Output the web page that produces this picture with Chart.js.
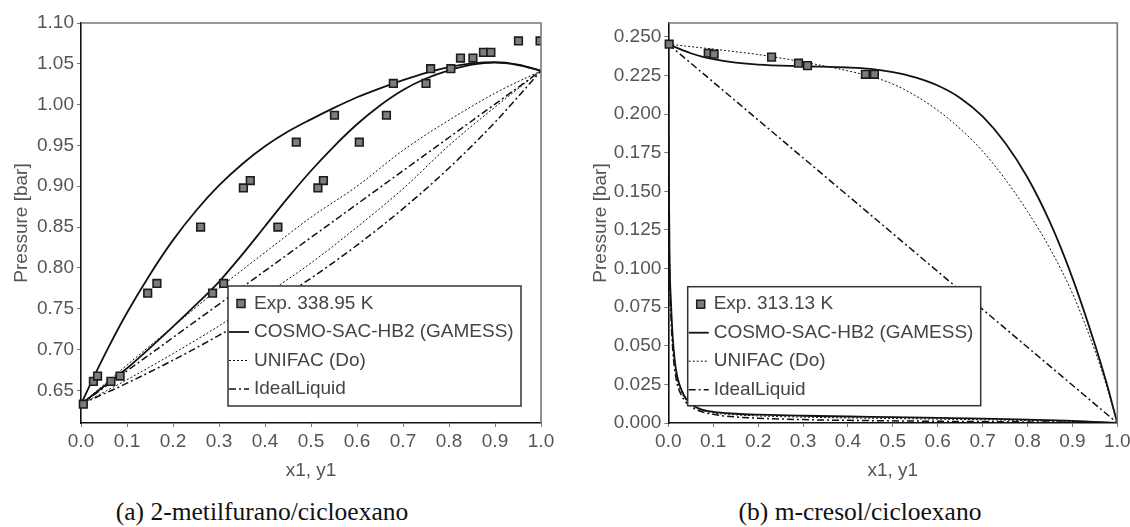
<!DOCTYPE html>
<html lang="pt">
<head>
<meta charset="UTF-8">
<title>ELV isotérmico</title>
<script src="https://cdn.jsdelivr.net/npm/chart.js"></script>
<style>
  body { margin: 0; background: #fff; }
  #wrap { position: relative; width: 1130px; height: 527px; overflow: hidden; }
  #wrap canvas { position: absolute; top: 0; }
  #chartA { left: 0; }
  #chartB { left: 565px; }
  .caption {
    position: absolute; top: 498px; transform: translateX(-50%); white-space: nowrap;
    font-family: "Liberation Serif", serif; font-size: 25.5px; line-height: 28px; color: #111;
  }
</style>
</head>
<body>
<div id="wrap">
  <canvas id="chartA" width="565" height="490"></canvas>
  <canvas id="chartB" width="565" height="490"></canvas>
  <div class="caption" style="left:262px">(a) 2-metilfurano/cicloexano</div>
  <div class="caption" style="left:860px">(b) m-cresol/cicloexano</div>
</div>

<script>
// ---- ticks ----
const ticksX = [0, 0.1, 0.2, 0.3, 0.4, 0.5, 0.6, 0.7, 0.8, 0.9, 1.0];
const ticksYA = [0.65, 0.70, 0.75, 0.80, 0.85, 0.90, 0.95, 1.00, 1.05, 1.10];
const ticksYB = [0, 0.025, 0.05, 0.075, 0.1, 0.125, 0.15, 0.175, 0.2, 0.225, 0.25];

// ---- (a) 2-metilfurano/cicloexano, 338.95 K ----
const expA_x = [0.005, 0.027, 0.036, 0.065, 0.085, 0.145, 0.165, 0.286, 0.310, 0.260, 0.428,
  0.353, 0.368, 0.515, 0.527, 0.468, 0.605, 0.551, 0.664, 0.679, 0.750, 0.760, 0.804,
  0.825, 0.852, 0.875, 0.891, 0.951, 0.998];
const expA_p = [0.633, 0.661, 0.6675, 0.661, 0.6675, 0.769, 0.781, 0.769, 0.781, 0.850, 0.850,
  0.898, 0.907, 0.898, 0.907, 0.954, 0.954, 0.987, 0.987, 1.026, 1.026, 1.044, 1.044,
  1.057, 1.057, 1.064, 1.064, 1.078, 1.078];

const cosmoBubA_x = [0, 0.03, 0.06, 0.1, 0.15, 0.2, 0.25, 0.3, 0.35, 0.4, 0.45, 0.5, 0.55,
  0.6, 0.65, 0.7, 0.75, 0.8, 0.85, 0.9, 0.95, 1.0];
const cosmoBubA_p = [0.633, 0.669, 0.703, 0.745, 0.792, 0.834, 0.870, 0.901, 0.927, 0.949,
  0.967, 0.982, 0.996, 1.009, 1.020, 1.030, 1.039, 1.046, 1.0505, 1.052, 1.049, 1.0415];

const gridA = [0, 0.05, 0.1, 0.15, 0.2, 0.25, 0.3, 0.35, 0.4, 0.45, 0.5, 0.55, 0.6, 0.65,
  0.7, 0.75, 0.8, 0.85, 0.9, 0.95, 1.0];
const cosmoDewA_p = [0.633, 0.655, 0.677, 0.702, 0.728, 0.755, 0.783, 0.816, 0.851, 0.886,
  0.919, 0.949, 0.976, 0.999, 1.018, 1.032, 1.042, 1.049, 1.0515, 1.0485, 1.0415];

const gridA10 = [0, 0.1, 0.2, 0.3, 0.4, 0.5, 0.6, 0.7, 0.8, 0.9, 1.0];
const unifacBubA_p = [0.633, 0.681, 0.728, 0.775, 0.819, 0.862, 0.900, 0.944, 0.981, 1.014, 1.0415];
const unifacDewA_p = [0.633, 0.663, 0.695, 0.729, 0.767, 0.806, 0.850, 0.897, 0.950, 0.997, 1.0415];
const idealBubA_x = [0, 1.0];
const idealBubA_p = [0.633, 1.0415];
const idealDewA_p = [0.633, 0.6588, 0.6869, 0.7174, 0.7508, 0.7874, 0.8278, 0.8726, 0.9224, 0.9784, 1.0415];

// ---- (b) m-cresol/cicloexano, 313.13 K ----
const expB_x = [0.002, 0.089, 0.102, 0.230, 0.290, 0.310, 0.439, 0.459];
const expB_p = [0.2453, 0.2394, 0.2388, 0.2369, 0.2330, 0.2314, 0.2258, 0.2258];

const bubB_x = [0, 0.025, 0.05, 0.075, 0.1, 0.15, 0.2, 0.3, 0.4, 0.45, 0.5, 0.55, 0.6,
  0.65, 0.7, 0.75, 0.8, 0.85, 0.9, 0.95, 0.975, 1.0];
const cosmoBubB_p = [0.2453, 0.2422, 0.2394, 0.2372, 0.2356, 0.2333, 0.2320, 0.2310, 0.2302,
  0.2293, 0.2272, 0.2238, 0.2185, 0.2105, 0.1985, 0.1815, 0.1590, 0.1300, 0.0940, 0.0510, 0.0270, 0.0];
const unifacBubB_p = [0.2453, 0.2445, 0.2437, 0.2429, 0.2421, 0.2404, 0.2386, 0.2338, 0.2280,
  0.2245, 0.2195, 0.2120, 0.2025, 0.1905, 0.1760, 0.1580, 0.1370, 0.1130, 0.0840, 0.0470, 0.0250, 0.0];
const idealBubB_x = [0, 1.0];
const idealBubB_p = [0.2453, 0.0];

const dewB_x = [0, 0.001, 0.003, 0.006, 0.01, 0.015, 0.02, 0.03, 0.04, 0.05, 0.07, 0.1,
  0.15, 0.2, 0.3, 0.4, 0.5, 0.6, 0.7, 0.8, 0.9, 1.0];
const cosmoDewB_p = [0.2453, 0.165, 0.105, 0.078, 0.055, 0.039, 0.030, 0.021, 0.0155, 0.0125,
  0.0092, 0.0072, 0.0060, 0.0054, 0.0047, 0.0042, 0.0038, 0.0033, 0.0028, 0.0022, 0.0014, 0.0];
const unifacDewB_p = [0.2453, 0.160, 0.100, 0.074, 0.052, 0.037, 0.028, 0.0195, 0.0147, 0.0118,
  0.0087, 0.0066, 0.0053, 0.0046, 0.0038, 0.0033, 0.0029, 0.0025, 0.0021, 0.0016, 0.0010, 0.0];
const idealDewB_p = [0.2453, 0.155, 0.095, 0.068, 0.047, 0.033, 0.025, 0.0175, 0.0132, 0.0107,
  0.0078, 0.0056, 0.0039, 0.0031, 0.0022, 0.0017, 0.0014, 0.0011, 0.0009, 0.0007, 0.0005, 0.0];

// ---- styles ----
const INK = '#111';
const TXT = '#555';
const FONT = '"Liberation Sans", Arial, sans-serif';
Chart.defaults.font.family = FONT;
Chart.defaults.font.size = 19;
Chart.defaults.color = TXT;

const LBL_COSMO = 'COSMO-SAC-HB2 (GAMESS)';
const LBL_UNIFAC = 'UNIFAC (Do)';
const LBL_IDEAL = 'IdealLiquid';

const lineStyle = {
  [LBL_COSMO]: { borderWidth: 1.8, borderDash: [] },
  [LBL_UNIFAC]: { borderWidth: 1, borderDash: [2, 2] },
  [LBL_IDEAL]: { borderWidth: 1.5, borderDash: [7, 3, 2, 3] }
};

const pts = (xs, ys) => xs.map((x, i) => ({ x, y: ys[i] }));

function curve(label, xs, ys) {
  return Object.assign({
    label, data: pts(xs, ys), showLine: true, fill: false,
    pointRadius: 0, pointHoverRadius: 0, borderColor: INK,
    cubicInterpolationMode: 'monotone'
  }, lineStyle[label]);
}

function exper(label, xs, ys) {
  return {
    label, data: pts(xs, ys), showLine: false,
    pointStyle: 'rect', pointRadius: 5.4, pointHoverRadius: 5.4,
    backgroundColor: '#7d7d7d', borderColor: '#1c1c1c', borderWidth: 1.6,
    clip: { left: 6, top: 6, right: 0, bottom: 6 }
  };
}

// frame (top/right) and the boxed legend inside the plot
const boxLegend = {
  id: 'boxLegend',
  afterDatasetsDraw(chart, args, opts) {
    const ctx = chart.ctx, a = chart.chartArea;
    ctx.save();
    ctx.strokeStyle = '#777';
    ctx.lineWidth = 1.6;
    ctx.beginPath();
    ctx.moveTo(a.left, a.top); ctx.lineTo(a.right, a.top); ctx.lineTo(a.right, a.bottom);
    ctx.stroke();

    const x0 = a.left + opts.left, y0 = a.top + opts.top;
    ctx.fillStyle = '#fff';
    ctx.fillRect(x0, y0, opts.width, opts.height);
    ctx.strokeStyle = '#333';
    ctx.lineWidth = 1.5;
    ctx.strokeRect(x0, y0, opts.width, opts.height);

    const seen = new Set();
    const items = chart.data.datasets.filter(d => !seen.has(d.label) && seen.add(d.label));
    ctx.font = '19px ' + FONT;
    ctx.textBaseline = 'middle';
    items.forEach((d, i) => {
      const y = y0 + 17.5 + i * 28.5;
      if (d.showLine) {
        ctx.strokeStyle = INK;
        ctx.lineWidth = d.borderWidth;
        ctx.setLineDash(d.borderDash);
        ctx.beginPath();
        ctx.moveTo(x0 + 1, y); ctx.lineTo(x0 + 21, y);
        ctx.stroke();
        ctx.setLineDash([]);
      } else {
        ctx.fillStyle = d.backgroundColor;
        ctx.strokeStyle = d.borderColor;
        ctx.lineWidth = 1.5;
        ctx.fillRect(x0 + 9, y - 4, 8, 8);
        ctx.strokeRect(x0 + 9, y - 4, 8, 8);
      }
      ctx.fillStyle = '#444';
      ctx.fillText(d.label, x0 + 26, y);
    });
    ctx.restore();
  }
};

function makeChart(id, cfg) {
  const tickFmt = cfg.yDigits;
  return new Chart(document.getElementById(id), {
    type: 'scatter',
    data: { datasets: cfg.datasets },
    options: {
      responsive: false,
      animation: false,
      events: [],
      layout: { padding: { left: 0, top: 23, right: cfg.padRight, bottom: 0 } },
      plugins: {
        legend: { display: false },
        tooltip: { enabled: false },
        boxLegend: cfg.legend
      },
      scales: {
        x: {
          type: 'linear', min: 0, max: 1,
          afterBuildTicks: s => { s.ticks = ticksX.map(v => ({ value: v })); },
          afterFit: s => { s.height = 67; s.paddingLeft = 0; s.paddingRight = 0; },
          grid: { drawOnChartArea: false, drawTicks: true, tickLength: 4, color: '#777' },
          border: { display: true, color: INK, width: 1.6 },
          ticks: { padding: 3, maxRotation: 0, autoSkip: false, callback: v => v.toFixed(1) },
          title: { display: true, text: 'x1, y1', padding: { top: 0, bottom: 7.6 } }
        },
        y: {
          type: 'linear', min: cfg.yMin, max: cfg.yMax,
          afterBuildTicks: s => { s.ticks = cfg.yTicks.map(v => ({ value: v })); },
          afterFit: s => { s.width = cfg.yWidth; s.paddingTop = 0; s.paddingBottom = 0; },
          grid: { drawOnChartArea: false, drawTicks: true, tickLength: 4, color: '#777' },
          border: { display: true, color: INK, width: 1.6 },
          ticks: { padding: 3, autoSkip: false, callback: v => v.toFixed(tickFmt) },
          title: { display: true, text: 'Pressure [bar]', padding: { top: cfg.titlePad, bottom: 0 } }
        }
      }
    },
    plugins: [boxLegend]
  });
}

makeChart('chartA', {
  yMin: 0.61, yMax: 1.10, yTicks: ticksYA, yDigits: 2, yWidth: 81, padRight: 24, titlePad: 10,
  legend: { left: 147, top: 263, width: 293, height: 120 },
  datasets: [
    exper('Exp. 338.95 K', expA_x, expA_p),
    curve(LBL_COSMO, cosmoBubA_x, cosmoBubA_p),
    curve(LBL_COSMO, gridA, cosmoDewA_p),
    curve(LBL_UNIFAC, gridA10, unifacBubA_p),
    curve(LBL_UNIFAC, gridA10, unifacDewA_p),
    curve(LBL_IDEAL, idealBubA_x, idealBubA_p),
    curve(LBL_IDEAL, gridA10, idealDewA_p)
  ]
});

makeChart('chartB', {
  yMin: 0, yMax: 0.259, yTicks: ticksYB, yDigits: 3, yWidth: 103.3, padRight: 12.7, titlePad: 24,
  legend: { left: 19.4, top: 263.7, width: 293, height: 119 },
  datasets: [
    exper('Exp. 313.13 K', expB_x, expB_p),
    curve(LBL_COSMO, bubB_x, cosmoBubB_p),
    curve(LBL_COSMO, dewB_x, cosmoDewB_p),
    curve(LBL_UNIFAC, bubB_x, unifacBubB_p),
    curve(LBL_UNIFAC, dewB_x, unifacDewB_p),
    curve(LBL_IDEAL, idealBubB_x, idealBubB_p),
    curve(LBL_IDEAL, dewB_x, idealDewB_p)
  ]
});
</script>
</body>
</html>
